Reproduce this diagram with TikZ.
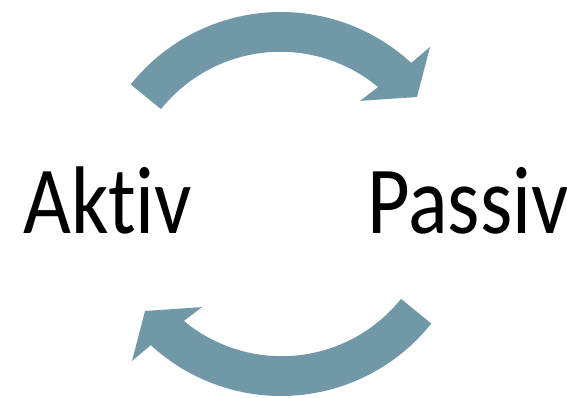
\documentclass[tikz,border=0pt]{standalone}
\usepackage{fontspec}
\setmainfont{Carlito}[Ligatures=CommonOff]
\definecolor{cyclecol}{RGB}{113,152,166}
\tikzset{
  cyclearrow/.style={fill=cyclecol, draw=none},
  statelabel/.style={inner sep=0pt, anchor=base west, xscale=0.86, transform shape,
    font=\fontsize{82}{82}\selectfont}
}
\begin{document}
\begin{tikzpicture}[x=0.03cm, y=0.03cm]
  \useasboundingbox (0,0) rectangle (567,398);
  \coordinate (centre) at (281,194);
  % the two bent arrows, second one turned half way round
  \foreach \turn in {0,180}
    \fill[cyclearrow, shift={(centre)}, rotate=\turn]
      (141.5:192) arc[start angle=141.5, end angle=47.3, radius=192]
      -- (46.5:216.5) -- (38.2:173) -- (52.5:130) -- (50.3:152)
      arc[start angle=50.3, end angle=141.3, radius=153] -- cycle;
  \node[statelabel] (aktiv) at (23,164) {Aktiv};
  \node[statelabel] (passiv) at (367,164) {Passiv};
\end{tikzpicture}
\end{document}
